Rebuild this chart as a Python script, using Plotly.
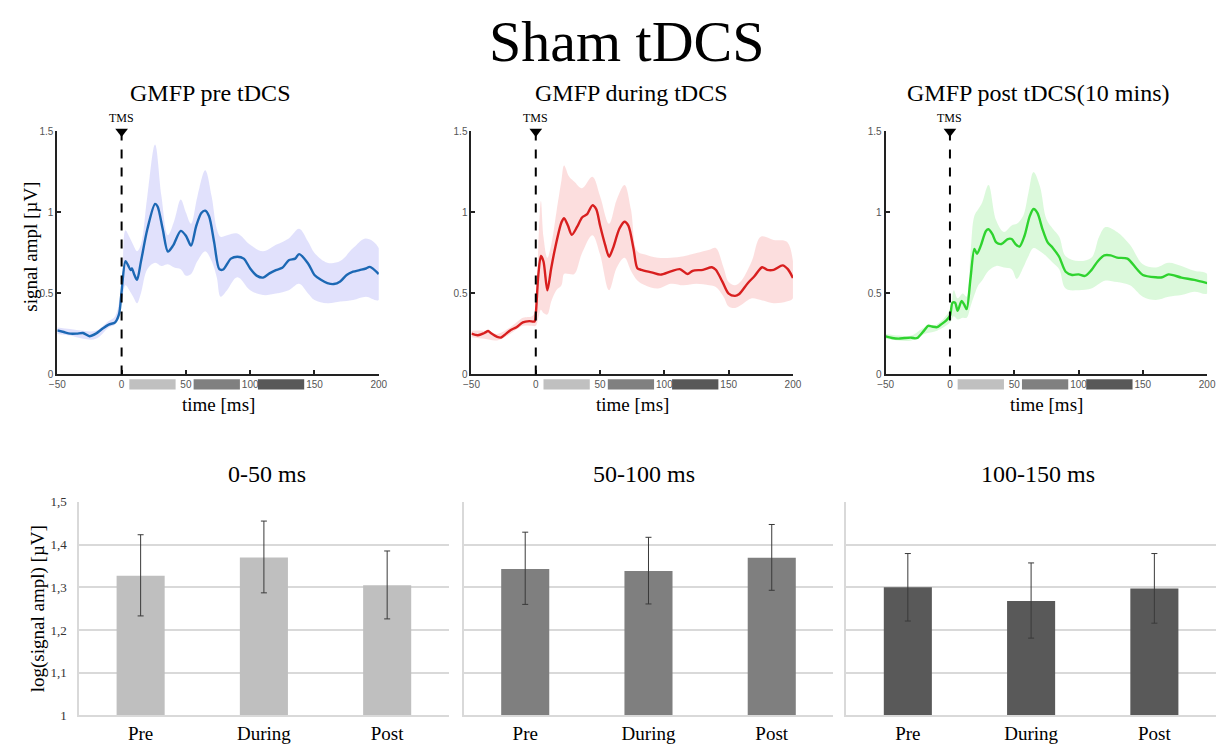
import plotly.graph_objects as go

# ---------------- data ----------------
pre_t = [-50,-45,-40,-35,-30,-25,-20,-15,-10,-5,-2,0,3,5,7,8,10,12,15,20,26,28,32,36,40,46,50,54,58,62,65,68,72,76,79,85,90,95,100,105,110,115,120,125,130,135,138,145,150,155,160,165,170,175,180,185,190,193,200]
pre_mean = [0.272,0.262,0.252,0.252,0.256,0.236,0.252,0.282,0.308,0.322,0.372,0.513,0.699,0.675,0.644,0.654,0.614,0.584,0.695,0.896,1.053,1.037,0.896,0.759,0.795,0.886,0.856,0.795,0.916,0.997,1.011,0.976,0.815,0.650,0.648,0.715,0.727,0.715,0.654,0.610,0.598,0.624,0.644,0.658,0.705,0.715,0.743,0.685,0.614,0.584,0.564,0.558,0.574,0.614,0.634,0.644,0.654,0.664,0.620]
pre_band_t = [-50,-40,-30,-20,-10,-5,0,3,6,9,12,15,20,26,31,36,41,46,50,54,59,65,70,74,77,82,90,100,110,120,130,138,145,150,160,170,180,190,200]
pre_upper = [0.29,0.28,0.27,0.27,0.33,0.36,0.56,0.89,0.85,0.80,0.76,0.80,1.10,1.42,1.10,0.86,0.95,1.08,1.00,0.93,1.10,1.26,1.10,0.90,0.85,0.86,0.87,0.80,0.76,0.80,0.84,0.90,0.82,0.75,0.69,0.70,0.78,0.84,0.78]
pre_lower = [0.25,0.24,0.22,0.22,0.29,0.31,0.45,0.55,0.52,0.48,0.44,0.50,0.65,0.69,0.67,0.68,0.66,0.65,0.61,0.62,0.70,0.76,0.70,0.60,0.48,0.52,0.60,0.52,0.49,0.50,0.52,0.56,0.50,0.46,0.44,0.45,0.46,0.48,0.46]

dur_t = [-50,-45,-40,-37,-35,-30,-27,-23,-20,-15,-10,-5,-1,0,2,4,6,9,12,15,20,22,25,28,32,36,40,44,47,50,54,57,60,65,69,72,76,79,82,90,97,105,112,118,122,130,137,140,145,150,155,158,165,170,176,180,185,192,196,200]
dur_mean = [0.252,0.242,0.256,0.268,0.256,0.232,0.228,0.252,0.272,0.292,0.322,0.329,0.327,0.373,0.616,0.731,0.697,0.519,0.656,0.778,0.939,0.965,0.919,0.862,0.909,0.969,0.990,1.044,1.020,0.919,0.798,0.727,0.778,0.899,0.943,0.919,0.778,0.656,0.646,0.630,0.616,0.636,0.650,0.620,0.640,0.646,0.662,0.646,0.575,0.499,0.485,0.495,0.565,0.606,0.662,0.646,0.646,0.673,0.650,0.596]
dur_band_t = [-50,-40,-30,-20,-10,-3,0,2,4,6,9,12,16,20,22,26,30,36,44,50,57,63,69,74,79,85,95,105,115,125,135,140,146,150,155,160,168,175,185,195,200]
dur_upper = [0.27,0.27,0.25,0.29,0.35,0.36,0.40,0.80,1.07,0.85,0.72,0.80,1.00,1.20,1.29,1.22,1.19,1.15,1.22,1.10,0.93,1.08,1.17,1.02,0.76,0.74,0.72,0.72,0.73,0.75,0.77,0.78,0.66,0.57,0.55,0.58,0.70,0.85,0.83,0.82,0.70]
dur_lower = [0.23,0.22,0.21,0.25,0.30,0.30,0.30,0.35,0.40,0.38,0.37,0.45,0.52,0.55,0.62,0.62,0.62,0.75,0.86,0.74,0.52,0.66,0.72,0.64,0.58,0.55,0.53,0.56,0.55,0.56,0.55,0.54,0.48,0.42,0.41,0.43,0.47,0.46,0.44,0.45,0.47]

post_t = [-50,-45,-40,-35,-30,-27,-25,-20,-17,-14,-10,-7,-3,0,2,4,6,9,11,13,16,19,21,24,28,30,33,36,40,45,48,51,54,58,62,65,68,72,76,80,85,90,95,100,105,110,115,120,125,130,138,145,150,160,165,170,180,190,200]
post_mean = [0.235,0.225,0.221,0.225,0.227,0.223,0.227,0.272,0.300,0.296,0.292,0.308,0.332,0.362,0.443,0.443,0.393,0.453,0.433,0.403,0.594,0.775,0.745,0.795,0.886,0.896,0.866,0.815,0.805,0.836,0.836,0.805,0.789,0.856,0.976,1.021,0.997,0.896,0.815,0.781,0.725,0.634,0.614,0.618,0.608,0.644,0.699,0.735,0.735,0.721,0.715,0.654,0.614,0.600,0.600,0.618,0.598,0.584,0.564]
post_band_t = [-50,-40,-30,-20,-10,0,3,6,10,13,16,19,22,25,30,36,42,48,52,57,61,65,70,75,80,85,90,100,110,116,121,130,140,150,160,170,180,190,200]
post_upper = [0.25,0.24,0.24,0.29,0.31,0.40,0.52,0.47,0.50,0.48,0.75,0.98,1.02,1.06,1.17,0.95,0.88,0.92,0.93,0.98,1.12,1.25,1.16,0.96,0.90,0.85,0.73,0.70,0.72,0.85,0.91,0.88,0.80,0.68,0.66,0.69,0.67,0.64,0.62]
post_lower = [0.22,0.21,0.21,0.25,0.27,0.32,0.36,0.34,0.35,0.35,0.42,0.49,0.55,0.58,0.64,0.67,0.66,0.65,0.59,0.66,0.73,0.78,0.76,0.73,0.69,0.65,0.53,0.52,0.53,0.56,0.58,0.57,0.55,0.48,0.46,0.48,0.49,0.51,0.50]

top_titles = ["GMFP pre tDCS", "GMFP during tDCS", "GMFP post tDCS(10 mins)"]
top_xticks = [-50, 0, 50, 100, 150, 200]
top_yticks = [0, 0.5, 1, 1.5]
top_yticktext = ["0", "0.5", "1", "1.5"]
tms_time = 0
windows = [(0, 50), (50, 100), (100, 150)]

conditions = ["Pre", "During", "Post"]
win_titles = ["0-50 ms", "50-100 ms", "100-150 ms"]
win_means = [[1.327, 1.370, 1.305], [1.343, 1.338, 1.369], [1.300, 1.268, 1.297]]
win_err_hi = [[1.423, 1.455, 1.385], [1.429, 1.417, 1.447], [1.379, 1.357, 1.379]]
win_err_lo = [[1.233, 1.287, 1.226], [1.260, 1.261, 1.293], [1.221, 1.181, 1.216]]
bar_yticks = [1, 1.1, 1.2, 1.3, 1.4, 1.5]
bar_yticktext = ["1", "1,1", "1,2", "1,3", "1,4", "1,5"]

# ---------------- style ----------------
SERIF = "Liberation Serif"
SANS = "Liberation Sans"
line_colors = ["#1c68b4", "#d81f1f", "#2fd32f"]
band_colors = ["rgba(205,205,250,0.6)", "rgba(250,200,200,0.6)", "rgba(195,245,195,0.6)"]
bar_colors = ["#bfbfbf", "#7f7f7f", "#595959"]
win_bar_colors = ["#c0c0c0", "#808080", "#585858"]

W, H = 1225, 746
def px_x(p): return p / W
def px_y(p): return 1 - p / H

def ax_names(n):
    s = "" if n == 1 else str(n)
    return "x" + s, "y" + s, "xaxis" + s, "yaxis" + s

def label(x, y, text, size, angle=0, color="black", family=SERIF):
    return dict(xref="paper", yref="paper", x=px_x(x), y=px_y(y), text=text, textangle=angle,
                xanchor="center", yanchor="middle", showarrow=False,
                font=dict(family=family, size=size, color=color))

top_x = [(50, 376), (470, 796), (890, 1216)]
top_y = (127, 375)
bot_x = [(72, 447), (462, 837), (850, 1225)]
bot_y = (505, 723)

fig = go.Figure()
layout = dict(width=W, height=H, margin=dict(l=0, r=0, t=0, b=0),
              paper_bgcolor="white", plot_bgcolor="white", showlegend=False)
annotations = []
shapes = []

series = [(pre_t, pre_mean, pre_band_t, pre_upper, pre_lower),
          (dur_t, dur_mean, dur_band_t, dur_upper, dur_lower),
          (post_t, post_mean, post_band_t, post_upper, post_lower)]

for i, (t, m, bt, up, lo) in enumerate(series):
    xa, ya, xk, yk = ax_names(i + 1)
    fig.add_trace(go.Scatter(x=list(bt) + list(bt[::-1]), y=list(up) + list(lo[::-1]),
                             fill="toself", fillcolor=band_colors[i], line=dict(width=0, shape="spline"),
                             mode="lines", hoverinfo="skip", xaxis=xa, yaxis=ya))
    fig.add_trace(go.Scatter(x=t, y=m, mode="lines", line=dict(color=line_colors[i], width=2.4, shape="spline", smoothing=0.8),
                             xaxis=xa, yaxis=ya))
    fig.add_trace(go.Scatter(x=[tms_time], y=[top_yticks[-1]], mode="markers",
                             marker=dict(symbol="triangle-down", size=11, color="black"),
                             cliponaxis=False, xaxis=xa, yaxis=ya))
    common = dict(showgrid=False, zeroline=False, showline=True, linecolor="#222", linewidth=2,
                  ticks="inside", ticklen=4, tickcolor="#222", tickwidth=1.5,
                  tickfont=dict(family=SANS, size=10, color="#555"))
    layout[xk] = dict(domain=[px_x(top_x[i][0]), px_x(top_x[i][1])], anchor=ya,
                      range=[-50, 200], tickvals=top_xticks, **common)
    layout[yk] = dict(domain=[px_y(top_y[1]), px_y(top_y[0])], anchor=xa,
                      range=[0, 1.5], tickvals=top_yticks, ticktext=top_yticktext, **common)
    shapes.append(dict(type="line", xref=xa, yref=f"{ya} domain", x0=tms_time, x1=tms_time, y0=0, y1=1,
                       line=dict(color="black", width=2, dash="dash")))
    for k, (w0, w1) in enumerate(windows):
        shapes.append(dict(type="rect", xref=xa, yref=f"{ya} domain", x0=w0 + 6, x1=w1 - 8,
                           y0=-0.020, y1=-0.062, fillcolor=win_bar_colors[k], line=dict(width=0), layer="above"))
    annotations.append(dict(xref=xa, yref=f"{ya} domain", x=tms_time, y=1, yshift=13, text="TMS",
                            xanchor="center", yanchor="middle",
                            showarrow=False, font=dict(family=SERIF, size=12, color="black")))
    cx = (top_x[i][0] + top_x[i][1]) / 2
    annotations.append(label(cx, 406, "time [ms]", 19))
    annotations.append(label([205, 632, 1045][i], 88, top_titles[i], 24))

annotations.append(label(22, 245, "signal ampl [µV]", 19, angle=-90))

for i in range(3):
    xa, ya, xk, yk = ax_names(i + 4)
    ehi = [h - v for h, v in zip(win_err_hi[i], win_means[i])]
    elo = [v - l for l, v in zip(win_err_lo[i], win_means[i])]
    fig.add_trace(go.Bar(x=conditions, y=win_means[i], width=0.39, marker=dict(color=bar_colors[i], line=dict(width=0)),
                         error_y=dict(type="data", array=ehi, arrayminus=elo, color="#3a3a3a", thickness=1, width=3),
                         xaxis=xa, yaxis=ya))
    layout[xk] = dict(domain=[px_x(bot_x[i][0]), px_x(bot_x[i][1])], anchor=ya, type="category",
                      range=[-0.5, 2.5], showgrid=False, zeroline=False, showline=True,
                      linecolor="#d9d9d9", linewidth=1.5, ticks="",
                      tickfont=dict(family=SERIF, size=19, color="black"))
    layout[yk] = dict(domain=[px_y(bot_y[1]), px_y(bot_y[0])], anchor=xa, range=[1, 1.5],
                      tickvals=bar_yticks, ticktext=bar_yticktext, showgrid=True,
                      gridcolor="#d9d9d9", gridwidth=1.5, zeroline=False, showline=True,
                      linecolor="#d9d9d9", linewidth=1.5, ticks="outside", ticklen=8, tickcolor="white",
                      showticklabels=(i == 0),
                      tickfont=dict(family=SERIF, size=13, color="#333"))
    annotations.append(label([263, 645, 1045][i], 477, win_titles[i], 24))

annotations.append(label(30, 614, "log(signal ampl) [µV]", 19, angle=-90))
annotations.append(label(628, 35, "Sham tDCS", 58))

layout["annotations"] = annotations
layout["shapes"] = shapes
fig.update_layout(**layout)
fig.write_html("out.html")
